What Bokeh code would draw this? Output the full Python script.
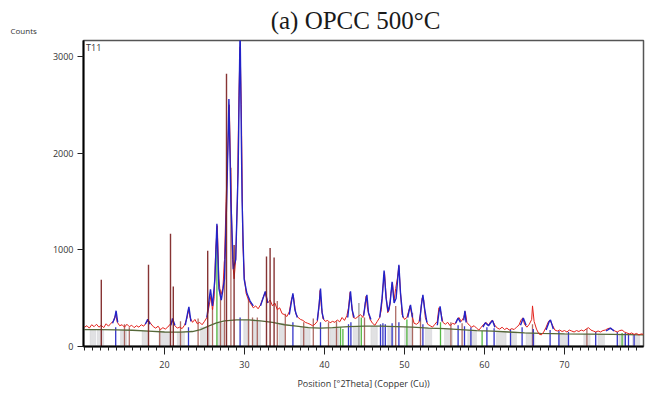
from bokeh.plotting import figure
from bokeh.models import FixedTicker, Label, Range1d
from bokeh.layouts import column
from bokeh.embed import file_html
from bokeh.resources import INLINE

# ---------------- data ----------------
title_text = "(a) OPCC 500°C"
x_label = "Position [°2Theta] (Copper (Cu))"
y_label = "Counts"
sample = "T11"
x_major = [20, 30, 40, 50, 60, 70]
y_major = [0, 1000, 2000, 3000]

# measured pattern (red)
meas_x = [10.0, 10.3, 10.6, 10.9, 11.2, 11.5, 11.8, 12.1, 12.4, 12.7, 13.0, 13.3, 13.6, 13.9, 14.1, 14.4, 14.7, 15.0,
          15.3, 15.6, 15.9, 16.2, 16.5, 16.8, 17.1, 17.4, 17.7, 18.0, 18.3, 18.6, 18.9, 19.2, 19.5, 19.8, 20.1, 20.4,
          20.7, 21.0, 21.3, 21.6, 21.9, 22.2, 22.5, 22.8, 23.0, 23.2, 23.5, 23.8, 24.1, 24.4, 24.7, 25.0, 25.3, 25.6,
          25.8, 26.0, 26.2, 26.4, 26.6, 26.8, 27.0, 27.3, 27.5, 27.7, 27.9, 28.1, 28.3, 28.5, 28.7, 28.9, 29.1, 29.3,
          29.45, 29.6, 29.8, 30.0, 30.2, 30.5, 30.8, 31.1, 31.4, 31.7, 32.0, 32.3, 32.6, 32.9, 33.2, 33.5, 33.8, 34.1,
          34.4, 34.7, 35.0, 35.3, 35.6, 35.9, 36.1, 36.4, 36.7, 37.0, 37.3, 37.6, 37.9, 38.2, 38.5, 38.8, 39.1, 39.3,
          39.45, 39.6, 39.8, 40.1, 40.4, 40.7, 41.0, 41.3, 41.6, 41.9, 42.2, 42.5, 42.8, 43.0, 43.2, 43.4, 43.6, 43.9,
          44.2, 44.5, 44.8, 45.0, 45.2, 45.4, 45.7, 46.0, 46.3, 46.6, 46.9, 47.1, 47.3, 47.5, 47.7, 47.9, 48.1, 48.3,
          48.5, 48.7, 48.9, 49.1, 49.3, 49.5, 49.7, 50.0, 50.3, 50.5, 50.7, 50.9, 51.2, 51.5, 51.8, 52.0, 52.2, 52.4,
          52.6, 52.9, 53.2, 53.5, 53.8, 54.1, 54.3, 54.5, 54.8, 55.1, 55.4, 55.7, 56.0, 56.3, 56.6, 56.8, 57.1, 57.4,
          57.6, 57.8, 58.1, 58.4, 58.7, 59.0, 59.3, 59.6, 59.9, 60.2, 60.5, 60.8, 61.0, 61.3, 61.6, 61.9, 62.2, 62.5,
          62.8, 63.1, 63.4, 63.7, 64.0, 64.3, 64.6, 64.8, 65.0, 65.3, 65.6, 65.9, 66.0, 66.2, 66.5, 66.8, 67.1, 67.4,
          67.7, 68.0, 68.2, 68.5, 68.8, 69.1, 69.4, 69.7, 70.0, 70.3, 70.6, 70.9, 71.2, 71.5, 71.8, 72.1, 72.4, 72.7,
          73.0, 73.3, 73.6, 73.9, 74.2, 74.5, 74.8, 75.1, 75.4, 75.7, 76.0, 76.3, 76.6, 76.9, 77.2, 77.5, 77.8, 78.1,
          78.4, 78.7, 79.0, 79.3, 79.6, 79.9]
meas_y = [200, 215, 190, 225, 205, 230, 200, 220, 195, 235, 210, 240, 260, 330, 250, 215, 225, 200,
          230, 205, 220, 195, 215, 200, 225, 210, 245, 270, 235, 205, 190, 210, 175, 195, 180, 200,
          230, 260, 215, 190, 200, 185, 220, 290, 380, 300, 250, 280, 235, 250, 225, 260, 300, 430,
          520, 380, 500, 1000, 1250, 700, 520, 600, 900, 1500, 2000, 2500, 1700, 900, 700, 900, 1500, 2600,
          3100, 2500, 1050, 700, 550, 480, 440, 400, 420, 390, 430, 500, 560, 450, 480, 420, 450, 380,
          400, 340, 330, 310, 360, 500, 530, 340, 300, 280, 270, 250, 240, 230, 215, 230, 260, 400,
          580, 420, 290, 260, 270, 245, 260, 250, 275, 255, 300, 270, 320, 400, 560, 430, 300, 290,
          310, 330, 300, 380, 520, 380, 280, 240, 220, 260, 300, 380, 600, 770, 520, 350, 380, 550,
          660, 480, 600, 700, 830, 560, 330, 280, 300, 360, 420, 330, 240, 230, 250, 340, 500, 480,
          300, 230, 215, 200, 230, 260, 400, 370, 250, 230, 250, 215, 240, 230, 280, 300, 260, 300,
          360, 250, 220, 200, 215, 190, 170, 200, 230, 250, 220, 260, 270, 220, 190, 180, 200, 175,
          190, 170, 185, 175, 200, 220, 280, 295, 230, 200, 230, 280, 420, 260, 180, 130, 120, 150,
          200, 260, 270, 220, 170, 160, 170, 155, 165, 150, 170, 160, 150, 165, 155, 170, 160, 180,
          195, 170, 160, 150, 160, 150, 165, 170, 185, 190, 175, 160, 150, 165, 170, 150, 140, 130,
          140, 125, 135, 120, 130, 125]

# fitted profile (blue), one list per peak group
fit_x = [[13.5, 13.8, 13.95, 14.15], [17.6, 17.9, 18.2], [20.8, 21.0, 21.3], [22.6, 22.9, 23.05, 23.3],
         [25.3, 25.6, 25.75, 26.0, 26.3, 26.55, 26.8, 27.1, 27.5, 27.8, 28.05, 28.3, 28.6, 28.9, 29.2, 29.45,
          29.7, 29.95, 30.3, 30.7, 31.1],
         [32.0, 32.4, 32.6, 32.9], [35.6, 35.9, 36.05, 36.3, 36.6], [39.1, 39.35, 39.5, 39.7, 39.9],
         [42.9, 43.1, 43.25, 43.45, 43.7], [44.9, 45.1, 45.3, 45.5, 45.8],
         [46.9, 47.2, 47.45, 47.7, 47.95, 48.2, 48.45, 48.7, 48.95, 49.15, 49.3, 49.5, 49.8],
         [50.4, 50.6, 50.75, 51.0], [51.9, 52.1, 52.3, 52.5, 52.8], [54.1, 54.3, 54.45, 54.7],
         [56.4, 56.7, 57.0], [57.4, 57.55, 57.7], [59.8, 60.1, 60.5, 61.0, 61.3], [64.5, 64.85, 65.2],
         [67.7, 68.1, 68.25, 68.6], [75.2, 75.75, 76.2]]
fit_y = [[240, 300, 370, 250], [230, 280, 230], [220, 290, 220], [220, 350, 410, 260],
         [300, 500, 590, 420, 700, 1270, 600, 480, 700, 1600, 2560, 1500, 800, 900, 1800, 3300,
          1500, 700, 550, 470, 420],
         [420, 520, 570, 450], [330, 480, 550, 380, 300], [270, 450, 600, 350, 280],
         [300, 450, 570, 380, 300], [320, 450, 535, 350, 280],
         [300, 500, 785, 500, 360, 450, 670, 450, 500, 700, 845, 550, 300],
         [300, 380, 430, 300], [260, 420, 535, 400, 250], [220, 350, 415, 260],
         [240, 295, 250], [270, 370, 250], [200, 245, 215, 270, 200], [220, 295, 220],
         [170, 260, 275, 180], [160, 190, 160]]

# background curve
bg_x = [10, 12, 14, 16, 18, 20, 22, 23.5, 24.5, 25.5, 26.5, 27.5, 29, 30.5, 32, 33.5, 35, 36.5, 38, 39.5,
        41, 43, 45, 47, 49, 51, 53, 55, 57, 59, 61, 63, 65, 67, 70, 73, 76, 80]
bg_y = [175, 175, 172, 168, 160, 150, 148, 155, 175, 210, 245, 265, 275, 275, 265, 250, 225, 210, 195, 190,
        195, 205, 210, 210, 205, 200, 190, 185, 175, 165, 160, 150, 140, 135, 130, 128, 125, 120]

# shaded peak areas
area_left = [10.7, 11.6, 14.5, 17.2, 19.3, 21.6, 24.5, 26.6, 29.9, 31.0, 34.3, 37.0, 40.7, 43.6, 45.8, 47.9,
             50.0, 52.6, 55.0, 57.9, 61.5, 63.3, 65.2, 69.3, 72.4, 74.2, 76.8, 78.5]
area_right = [11.4, 12.4, 15.3, 18.0, 20.7, 22.5, 25.7, 27.4, 30.6, 32.0, 35.0, 38.2, 41.8, 44.4, 46.6, 48.6,
              51.0, 53.4, 56.0, 59.0, 62.7, 64.0, 66.3, 70.5, 73.2, 75.0, 77.6, 79.4]
area_top = [170, 170, 165, 160, 150, 150, 200, 240, 270, 265, 240, 200, 190, 205, 210, 205,
            200, 190, 185, 165, 155, 150, 140, 130, 128, 125, 122, 120]

# reference sticks
ref1_x = [12.1, 18.0, 20.75, 21.1, 25.4, 27.75, 28.7, 32.75, 33.2, 33.7]
ref1_y = [690, 845, 1165, 620, 990, 2820, 1050, 930, 1020, 920]
ref2_x = [15.0, 15.6, 19.4, 22.0, 24.2, 26.0, 27.0, 27.5, 28.3, 30.5, 31.0, 31.6, 34.1, 35.1, 37.4, 38.6,
          40.5, 41.5, 45.0, 48.9, 51.0, 52.0, 55.8, 57.2, 66.0, 72.8]
ref2_y = [230, 200, 180, 260, 290, 400, 590, 880, 1850, 500, 300, 300, 470, 340, 250, 290,
          250, 260, 300, 420, 350, 300, 250, 240, 230, 180]
ref3_x = [13.9, 23.0, 29.45, 36.05, 39.5, 43.0, 43.3, 47.0, 47.3, 47.6, 48.45, 49.3, 52.3, 56.7, 57.5, 58.3,
          60.3, 61.2, 63.25, 64.7, 66.1, 68.2, 69.3, 70.5, 73.9, 76.6, 77.6, 78.0, 78.7]
ref3_y = [200, 200, 300, 250, 250, 230, 250, 230, 240, 230, 240, 250, 230, 220, 210, 200,
          200, 190, 180, 200, 180, 170, 160, 150, 150, 150, 140, 140, 130]
ref4_x = [26.55, 42.0, 42.3, 44.6, 50.3, 54.5, 59.7, 77.2]
ref4_y = [1200, 200, 180, 300, 280, 250, 160, 140]
ref5_x = [44.3]
ref5_y = [450]

tick_font = "Open Sans"

# ---------------- header (title and "Counts") ----------------
head = figure(width=645, height=38, output_backend="svg", toolbar_location=None,
              x_range=Range1d(0, 645), y_range=Range1d(38, 0),
              x_axis_type=None, y_axis_type=None, min_border=0)
head.frame_align = False
head.outline_line_color = None
head.xgrid.visible = False
head.ygrid.visible = False
head.add_layout(Label(x=355, y=20, text=title_text, text_font="Liberation Serif",
                      text_font_size="25px", text_align="center", text_baseline="middle",
                      text_color="#1a1a1a"))
head.add_layout(Label(x=10, y=30, text=y_label, text_font=tick_font, text_font_size="8px",
                      text_align="left", text_baseline="middle", text_color="#333333"))

# ---------------- main figure ----------------
p = figure(width=645, height=354, output_backend="svg", toolbar_location=None,
           x_range=Range1d(9.875, 79.875), y_range=Range1d(0, 3165),
           min_border_left=83, min_border_right=2, min_border_top=2, min_border_bottom=45)
p.frame_align = False
p.background_fill_color = "white"
p.border_fill_color = "white"
p.outline_line_color = "#555555"
p.outline_line_width = 1.5
p.xgrid.visible = False
p.ygrid.visible = False

p.quad(left=area_left, right=area_right, bottom=0, top=area_top,
       fill_color="#c8c8cc", fill_alpha=0.55, line_color="#b8b8c0", line_alpha=0.5, line_width=0.5)

p.segment(x0=ref2_x, y0=0, x1=ref2_x, y1=ref2_y, line_color="#a0524a", line_width=1.3, line_alpha=0.85)
p.segment(x0=ref3_x, y0=0, x1=ref3_x, y1=ref3_y, line_color="#3535c8", line_width=1.3)
p.segment(x0=ref4_x, y0=0, x1=ref4_x, y1=ref4_y, line_color="#55b845", line_width=1.3)
p.segment(x0=ref5_x, y0=0, x1=ref5_x, y1=ref5_y, line_color="#999999", line_width=1.3)

p.line(bg_x, bg_y, line_color="#56683a", line_width=1.3)
p.line(meas_x, meas_y, line_color="#e3221c", line_width=1.0)
p.multi_line(fit_x, fit_y, line_color="#2323c8", line_width=1.4)
p.segment(x0=ref1_x, y0=0, x1=ref1_x, y1=ref1_y, line_color="#7a1e1e", line_width=1.4, line_alpha=0.9)

p.xaxis.ticker = FixedTicker(ticks=x_major, minor_ticks=list(range(10, 80)))
p.yaxis.ticker = FixedTicker(ticks=y_major, minor_ticks=[])
for ax in (p.xaxis[0], p.yaxis[0]):
    ax.axis_line_color = "black"
    ax.axis_line_width = 2
    ax.major_tick_line_color = "#222222"
    ax.minor_tick_line_color = "#222222"
    ax.major_tick_in = 0
    ax.minor_tick_in = 0
    ax.major_label_text_font = tick_font
    ax.major_label_text_font_size = "9px"
    ax.major_label_text_color = "#333333"
p.xaxis.major_tick_out = 8
p.xaxis.minor_tick_out = 4
p.yaxis.major_tick_out = 6
p.yaxis.minor_tick_out = 0
p.xaxis.major_label_standoff = 6
p.yaxis.major_label_standoff = 4
p.xaxis.axis_label = x_label
p.xaxis.axis_label_text_font = tick_font
p.xaxis.axis_label_text_font_size = "9px"
p.xaxis.axis_label_text_font_style = "normal"
p.xaxis.axis_label_text_color = "#333333"
p.xaxis.axis_label_standoff = 6

p.add_layout(Label(x=10.2, y=3090, text=sample, text_font=tick_font, text_font_size="9px",
                   text_align="left", text_baseline="middle", text_color="#333333"))

layout = column(head, p, spacing=0)
open("out.html", "w").write(file_html(layout, INLINE))
